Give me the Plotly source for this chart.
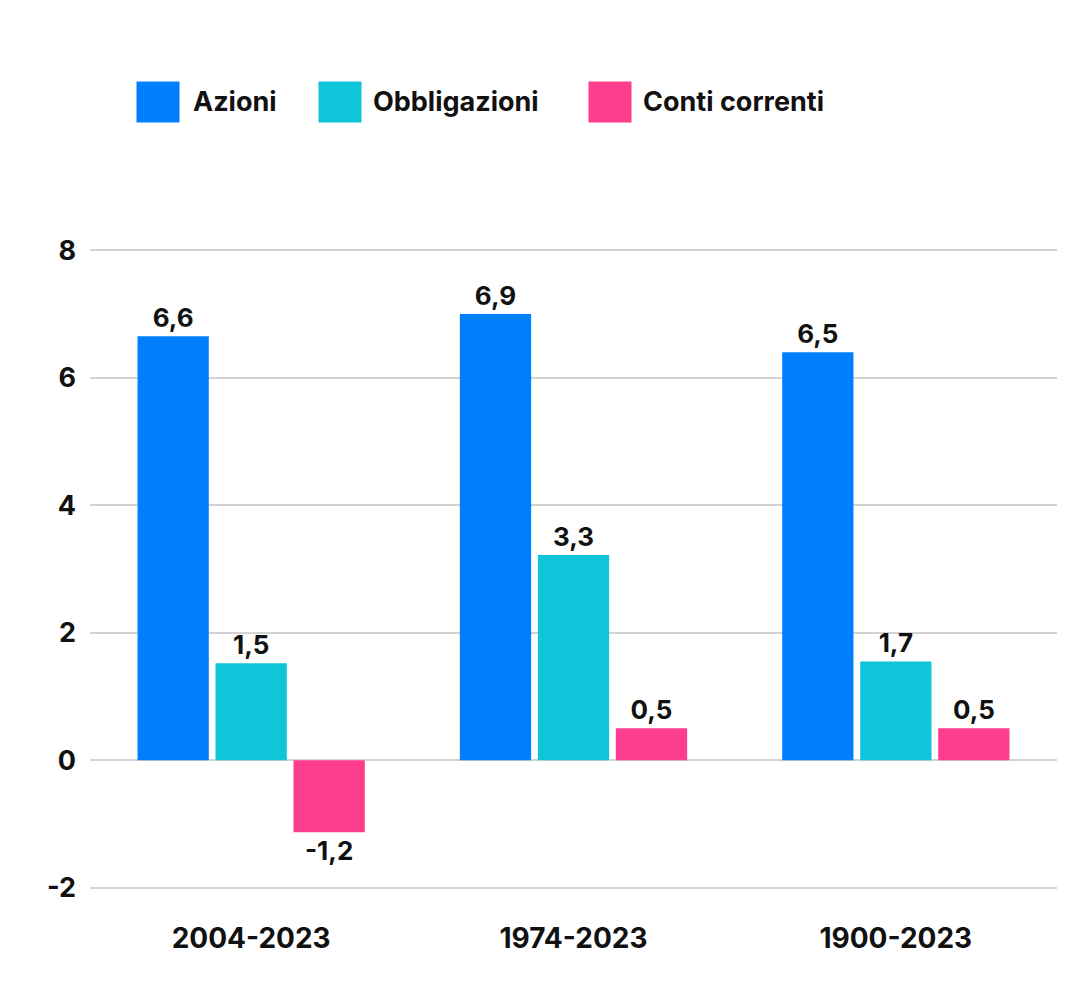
import plotly.graph_objects as go

# Data
periods = ['2004-2023', '1974-2023', '1900-2023']
series_names = ['Azioni', 'Obbligazioni', 'Conti correnti']
azioni = [6.65, 7.0, 6.4]
obbligazioni = [1.52, 3.22, 1.55]
conti_correnti = [-1.13, 0.5, 0.5]
azioni_labels = ['6,6', '6,9', '6,5']
obbligazioni_labels = ['1,5', '3,3', '1,7']
conti_labels = ['-1,2', '0,5', '0,5']
y_ticks = [-2, 0, 2, 4, 6, 8]
y_tick_text = ['-2', '0', '2', '4', '6', '8']

colors = ['#0080FF', '#0EC5DA', '#FF3D8E']
FONT = 'Inter'
INK = '#111111'

fig = go.Figure()
for name, vals, labels, col in zip(series_names,
                                   [azioni, obbligazioni, conti_correnti],
                                   [azioni_labels, obbligazioni_labels, conti_labels],
                                   colors):
    fig.add_trace(go.Bar(
        x=periods, y=vals, name=name,
        marker=dict(color=col, line=dict(width=0)),
        text=labels, textposition='outside', cliponaxis=False,
        textfont=dict(family=FONT, size=26, color=INK, weight=700),
    ))

# legend drawn as big squares + labels (plotly's own legend symbols are tiny)
legend_sq_x = [0.0703, 0.2585, 0.5377]
legend_txt_x = [0.1045, 0.2906, 0.5698]
legend_y = 1.23
for name, col, sx, tx in zip(series_names, colors, legend_sq_x, legend_txt_x):
    fig.add_annotation(xref='paper', yref='paper', x=sx, y=legend_y,
                       text='', width=40, height=38, bgcolor=col,
                       showarrow=False, xanchor='center', yanchor='middle')
    fig.add_annotation(xref='paper', yref='paper', x=tx, y=legend_y,
                       text=name, showarrow=False, xanchor='left', yanchor='middle',
                       font=dict(family=FONT, size=27, color=INK, weight=700))

fig.update_layout(
    width=1080, height=988,
    margin=dict(l=82, r=31, t=241, b=107),
    paper_bgcolor='white', plot_bgcolor='white',
    showlegend=False,
    barmode='group', bargap=0.274, bargroupgap=0.086,
    font=dict(family=FONT, color=INK),
    xaxis=dict(showgrid=False, showline=False, ticks='',
               ticklabelstandoff=30,
               tickfont=dict(family=FONT, size=28, color=INK, weight=700)),
    yaxis=dict(range=[-2.02, 8.02], tickvals=y_ticks, ticktext=y_tick_text,
               showline=False, ticks='',
               gridcolor='#D3D3D3', gridwidth=1.5,
               zeroline=True, zerolinecolor='#D3D3D3', zerolinewidth=1.5,
               ticklabelstandoff=13,
               tickfont=dict(family=FONT, size=27, color=INK, weight=700)),
)

fig.write_html('out.html')
